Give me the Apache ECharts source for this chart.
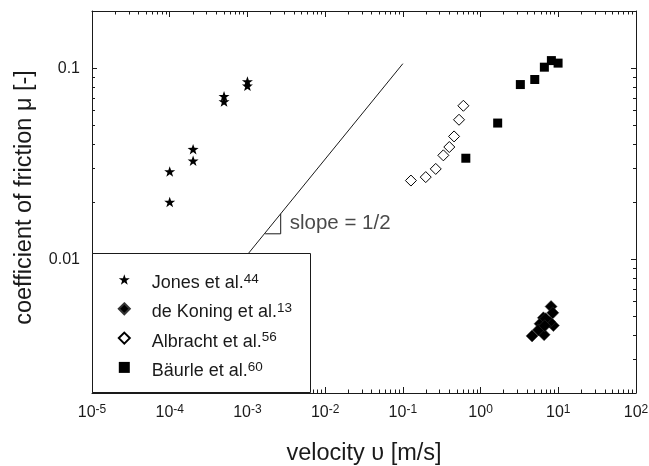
<!DOCTYPE html>
<html>
<head>
<meta charset="utf-8">
<script src="https://cdn.jsdelivr.net/npm/echarts@6/dist/echarts.min.js"></script>
<style>
  html, body { margin: 0; padding: 0; background: #fff; }
  #chart { width: 649px; height: 466px; }
</style>
</head>
<body>
<div id="chart"></div>
<script>
// series values (velocity in m/s, friction coefficient)
const seriesNames = ['Jones et al.', 'de Koning et al.', 'Albracht et al.', 'Bäurle et al.'];
const seriesRefs = ['44', '13', '56', '60'];

const jonesV = [1e-4, 1e-4, 2e-4, 2e-4, 5e-4, 5e-4, 1e-3, 1e-3];
const jonesMu = [0.0289, 0.0200, 0.0378, 0.0329, 0.0716, 0.0671, 0.0855, 0.0812];

const deKoningV = [8.07, 8.5, 6.43, 5.83, 8.65, 7.84, 6.57, 4.60, 5.55, 6.9, 6.7];
const deKoningMu = [0.00567, 0.00526, 0.00495, 0.00461, 0.00451, 0.00470, 0.00404, 0.00398, 0.00428, 0.0049, 0.0045];

const albrachtV = [0.127, 0.197, 0.265, 0.332, 0.396, 0.456, 0.528, 0.601];
const albrachtMu = [0.0259, 0.0270, 0.0298, 0.0351, 0.0388, 0.0441, 0.0539, 0.0638];

const baurleV = [0.646, 1.66, 3.25, 4.98, 6.62, 8.15, 9.94];
const baurleMu = [0.0339, 0.0518, 0.0824, 0.0876, 0.1016, 0.110, 0.1067];

// slope 1/2 guide line and its little triangle
const slopeLineV = [5e-4, 0.1];
const slopeLineMu = [0.0075, 0.106];
const triangleV = [1.69e-3, 2.68e-3, 2.68e-3];
const triangleMu = [0.01363, 0.01363, 0.01735];
const slopeLabelAt = [2.68e-3, 0.01537];

// axes
const xMin = 1e-5, xMax = 1e2;
const yMin = 0.002, yMax = 0.2;
const xDecades = [-5, -4, -3, -2, -1, 0, 1];
const yDecades = [-3, -2];
const yMajorTicks = [0.01, 0.1];
const minorMultipliers = [2, 3, 4, 5, 6, 7, 8, 9];

const FONT = '"Liberation Sans", Arial, Helvetica, sans-serif';
const INK = '#1a1a1a';
const STAR = 'path://M0,-10L2.35,-3.24L9.51,-3.09L3.8,1.24L5.88,8.09L0,4L-5.88,8.09L-3.8,1.24L-9.51,-3.09L-2.35,-3.24Z';

function minorTicks(decades, lo, hi) {
  const out = [];
  decades.forEach(d => minorMultipliers.forEach(m => {
    const v = m * Math.pow(10, d);
    if (v > lo * 1.0001 && v < hi * 0.9999) out.push(v);
  }));
  return out;
}

const zip = (a, b) => a.map((v, i) => [v, b[i]]);
const crisp = v => Math.round(v - 0.5) + 0.5;

// inward tick marks on both opposite sides of the frame
function tickSeries(values, dir, len) {
  return {
    type: 'custom',
    silent: true,
    clip: false,
    data: values.map(v => dir === 'x' ? [v, yMin] : [xMin, v]),
    renderItem(params, api) {
      const v = api.value(dir === 'x' ? 0 : 1);
      const style = {stroke: INK, lineWidth: 1};
      if (dir === 'x') {
        const b = api.coord([v, yMin]);
        const t = api.coord([v, yMax]);
        const x = crisp(b[0]);
        return {type: 'group', children: [
          {type: 'line', shape: {x1: x, y1: b[1], x2: x, y2: b[1] - len}, style},
          {type: 'line', shape: {x1: x, y1: t[1], x2: x, y2: t[1] + len}, style}
        ]};
      }
      const l = api.coord([xMin, v]);
      const r = api.coord([xMax, v]);
      const y = crisp(l[1]);
      return {type: 'group', children: [
        {type: 'line', shape: {x1: l[0], y1: y, x2: l[0] + len, y2: y}, style},
        {type: 'line', shape: {x1: r[0], y1: y, x2: r[0] - len, y2: y}, style}
      ]};
    }
  };
}

const chart = echarts.init(document.getElementById('chart'));

const frameAxis = {
  axisLine: {show: true, onZero: false, lineStyle: {color: INK, width: 1}},
  splitLine: {show: false}
};

chart.setOption({
  animation: false,
  backgroundColor: '#fff',
  textStyle: {fontFamily: FONT},
  grid: {left: 92, right: 13, top: 11, bottom: 73, containLabel: false, outerBoundsMode: 'none'},
  xAxis: [{
    ...frameAxis,
    type: 'log', logBase: 10, min: xMin, max: xMax, interval: 1, splitNumber: 7,
    axisTick: {show: true, inside: true, length: 6, lineStyle: {color: INK}},
    axisLabel: {
      margin: 11,
      color: INK,
      fontSize: 16,
      lineHeight: 18,
      fontFamily: FONT,
      formatter(v) {
        return '10{sup|' + Math.round(Math.log10(v)) + '}';
      },
      rich: {sup: {fontSize: 12, lineHeight: 11, verticalAlign: 'top', fontFamily: FONT, color: INK}}
    },
    name: 'velocity υ [m/s]',
    nameLocation: 'middle',
    nameGap: 49,
    nameTextStyle: {fontSize: 23.5, color: INK, fontFamily: FONT}
  }, {
    ...frameAxis,
    type: 'log', logBase: 10, min: xMin, max: xMax, interval: 1, splitNumber: 7,
    position: 'top',
    axisTick: {show: true, inside: true, length: 6, lineStyle: {color: INK}},
    axisLabel: {show: false}
  }],
  yAxis: [{
    ...frameAxis,
    type: 'log', logBase: 10, min: yMin, max: yMax,
    axisTick: {show: false},
    axisLabel: {
      margin: 12,
      color: INK,
      fontSize: 16,
      fontFamily: FONT,
      formatter(v) {
        const e = Math.log10(v);
        return Math.abs(e - Math.round(e)) < 1e-6 ? String(v) : '';
      }
    },
    name: 'coefficient of friction μ [-]',
    nameLocation: 'middle',
    nameGap: 55,
    nameTextStyle: {fontSize: 23.5, color: INK, fontFamily: FONT, padding: [0, 0, 0, 9]}
  }, {
    ...frameAxis,
    type: 'log', logBase: 10, min: yMin, max: yMax,
    position: 'right',
    axisTick: {show: false},
    axisLabel: {show: false}
  }],
  legend: {
    data: seriesNames,
    orient: 'vertical',
    left: 117.8,
    top: 265,
    padding: 0,
    itemWidth: 11,
    itemHeight: 11,
    itemGap: 0.3,
    z: 60,
    selectedMode: false,
    formatter(name) {
      return name + '{sup|' + seriesRefs[seriesNames.indexOf(name)] + '}';
    },
    textStyle: {
      fontSize: 18, lineHeight: 22, padding: [7, 0, 0, 17], color: INK, fontFamily: FONT,
      rich: {sup: {fontSize: 13.5, lineHeight: 8, verticalAlign: 'top', color: INK, fontFamily: FONT}}
    }
  },
  graphic: [{
    type: 'rect',
    z: 50,
    silent: true,
    shape: {x: 92.5, y: 253.5, width: 218, height: 139},
    style: {fill: '#fff', stroke: INK, lineWidth: 1}
  }],
  series: [
    {
      name: seriesNames[0], type: 'scatter', data: zip(jonesV, jonesMu),
      symbol: STAR, symbolSize: 11, symbolKeepAspect: true,
      itemStyle: {color: '#000', opacity: 1}
    },
    {
      name: seriesNames[1], type: 'scatter', data: zip(deKoningV, deKoningMu),
      symbol: 'diamond', symbolSize: 12,
      itemStyle: {color: '#000', opacity: 1, borderColor: '#333', borderWidth: 0.5}
    },
    {
      name: seriesNames[2], type: 'scatter', data: zip(albrachtV, albrachtMu),
      symbol: 'diamond', symbolSize: 11,
      itemStyle: {color: '#fff', opacity: 1, borderColor: '#000', borderWidth: 1}
    },
    {
      name: seriesNames[3], type: 'scatter', data: zip(baurleV, baurleMu),
      symbol: 'rect', symbolSize: 9,
      itemStyle: {color: '#000', opacity: 1}
    },
    {
      type: 'line', data: zip(slopeLineV, slopeLineMu), symbol: 'none', silent: true,
      lineStyle: {color: INK, width: 1}
    },
    {
      type: 'line', data: zip(triangleV, triangleMu), symbol: 'none', silent: true,
      lineStyle: {color: INK, width: 1}
    },
    {
      type: 'scatter', data: [slopeLabelAt], symbolSize: 0, silent: true,
      label: {
        show: true, position: 'right', distance: 9, formatter: 'slope = 1/2',
        fontSize: 20.5, color: INK, fontFamily: FONT
      }
    },
    tickSeries(minorTicks(xDecades, xMin, xMax), 'x', 3.5),
    tickSeries(minorTicks(yDecades, yMin, yMax), 'y', 3),
    tickSeries(yMajorTicks, 'y', 5)
  ]
});
</script>
</body>
</html>
